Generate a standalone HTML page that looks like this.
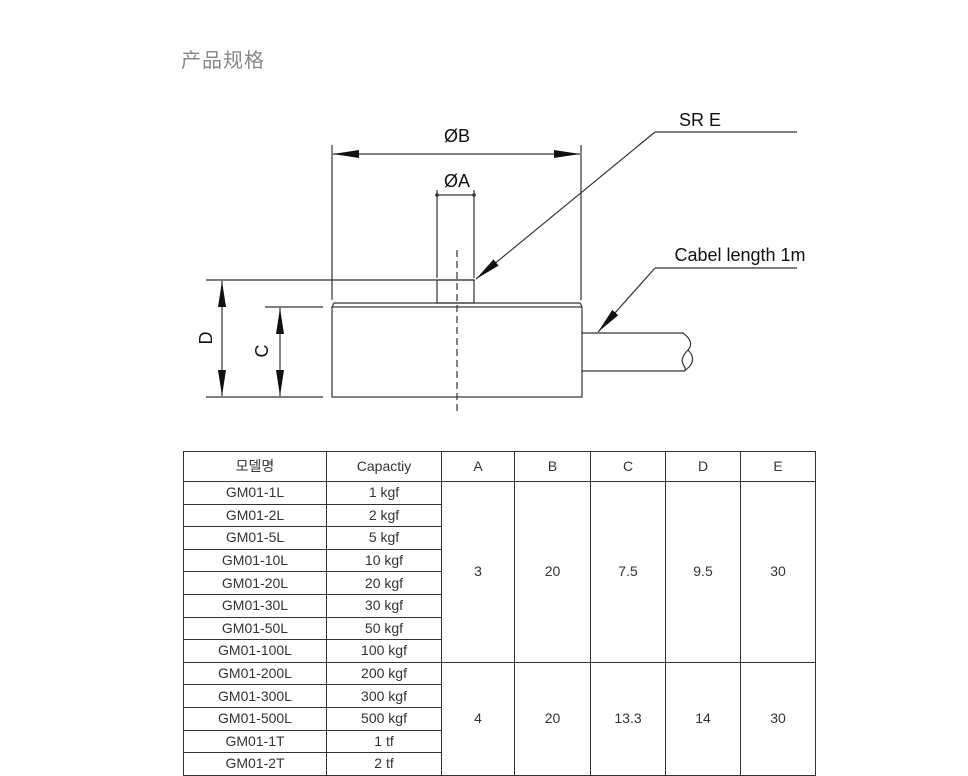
<!DOCTYPE html>
<html><head><meta charset="utf-8"><style>
body{margin:0;background:#fff;width:968px;height:773px;overflow:hidden;position:relative;font-family:"Liberation Sans","Noto Sans CJK KR",sans-serif}
.t{position:absolute;left:181px;top:44px;font-size:20px;color:#888;font-family:"Liberation Sans","Noto Sans CJK SC",sans-serif;letter-spacing:1px}
table{position:absolute;left:183px;top:451px;border-collapse:collapse;font-size:14px;color:#333}
td{border:1px solid #333;text-align:center;padding:0;height:21.6px;line-height:21px}
tr.h td{height:29px}
</style></head><body>
<div class="t">产品规格</div>
<svg width="968" height="440" style="position:absolute;left:0;top:0" font-family="Liberation Sans, sans-serif">
<defs>
<marker id="b" viewBox="0 0 26 10" refX="26" refY="5" markerWidth="26" markerHeight="10" markerUnits="userSpaceOnUse" orient="auto-start-reverse"><path d="M0,1 L26,5 L0,9z" fill="#111"/></marker></defs>
<g stroke="#333" stroke-width="1.2" fill="none">
<line x1="332" y1="145" x2="332" y2="300"/><line x1="581" y1="145" x2="581" y2="300"/>
<line x1="333" y1="154" x2="580" y2="154" marker-start="url(#b)" marker-end="url(#b)"/>
<line x1="437" y1="190" x2="437" y2="278"/><line x1="474" y1="190" x2="474" y2="278"/>
<line x1="437" y1="195" x2="474" y2="195"/>
<rect x="437" y="280" width="37" height="23"/>
<path d="M332,307 L334,303 L580,303 L582,307"/>
<rect x="332" y="307" width="250" height="90"/>
<line x1="457" y1="250" x2="457" y2="415" stroke-dasharray="7,4"/>
<line x1="206" y1="280" x2="475" y2="280"/>
<line x1="206" y1="397" x2="323" y2="397"/>
<line x1="265" y1="307" x2="323" y2="307"/>
<line x1="222" y1="281" x2="222" y2="396" marker-start="url(#b)" marker-end="url(#b)"/>
<line x1="280" y1="308" x2="280" y2="396" marker-start="url(#b)" marker-end="url(#b)"/>
<line x1="655" y1="132" x2="797" y2="132"/>
<line x1="655" y1="132" x2="476" y2="279" marker-end="url(#b)"/>
<line x1="655" y1="268" x2="797" y2="268"/>
<line x1="655" y1="268" x2="598" y2="332" marker-end="url(#b)"/>
<path d="M582,333 L683,333 Q695,342 688,350 Q680,358 683,364 Q687,370 684,371 L582,371"/>
<path d="M688,350 Q696,358 690,366 Q686,370 684,371"/>
</g>
<g fill="#111" font-size="18">
<text x="457" y="142" text-anchor="middle">ØB</text>
<text x="457" y="187" text-anchor="middle">ØA</text>
<text x="700" y="126" text-anchor="middle">SR E</text>
<text x="740" y="261" text-anchor="middle">Cabel length 1m</text>
<text transform="translate(212,338) rotate(-90)" text-anchor="middle">D</text>
<text transform="translate(268,351) rotate(-90)" text-anchor="middle">C</text>
</g>
<circle cx="437" cy="195" r="1.8" fill="#333"/><circle cx="474" cy="195" r="1.8" fill="#333"/>
</svg>
<table>
<colgroup><col style="width:143px"><col style="width:115px"><col style="width:73px"><col style="width:76px"><col style="width:75px"><col style="width:75px"><col style="width:75px"></colgroup>
<tr class="h"><td>모델명</td><td>Capactiy</td><td>A</td><td>B</td><td>C</td><td>D</td><td>E</td></tr>
<tr><td>GM01-1L</td><td>1 kgf</td><td rowspan="8">3</td><td rowspan="8">20</td><td rowspan="8">7.5</td><td rowspan="8">9.5</td><td rowspan="8">30</td></tr>
<tr><td>GM01-2L</td><td>2 kgf</td></tr>
<tr><td>GM01-5L</td><td>5 kgf</td></tr>
<tr><td>GM01-10L</td><td>10 kgf</td></tr>
<tr><td>GM01-20L</td><td>20 kgf</td></tr>
<tr><td>GM01-30L</td><td>30 kgf</td></tr>
<tr><td>GM01-50L</td><td>50 kgf</td></tr>
<tr><td>GM01-100L</td><td>100 kgf</td></tr>
<tr><td>GM01-200L</td><td>200 kgf</td><td rowspan="5">4</td><td rowspan="5">20</td><td rowspan="5">13.3</td><td rowspan="5">14</td><td rowspan="5">30</td></tr>
<tr><td>GM01-300L</td><td>300 kgf</td></tr>
<tr><td>GM01-500L</td><td>500 kgf</td></tr>
<tr><td>GM01-1T</td><td>1 tf</td></tr>
<tr><td>GM01-2T</td><td>2 tf</td></tr>
</table>
</body></html>
